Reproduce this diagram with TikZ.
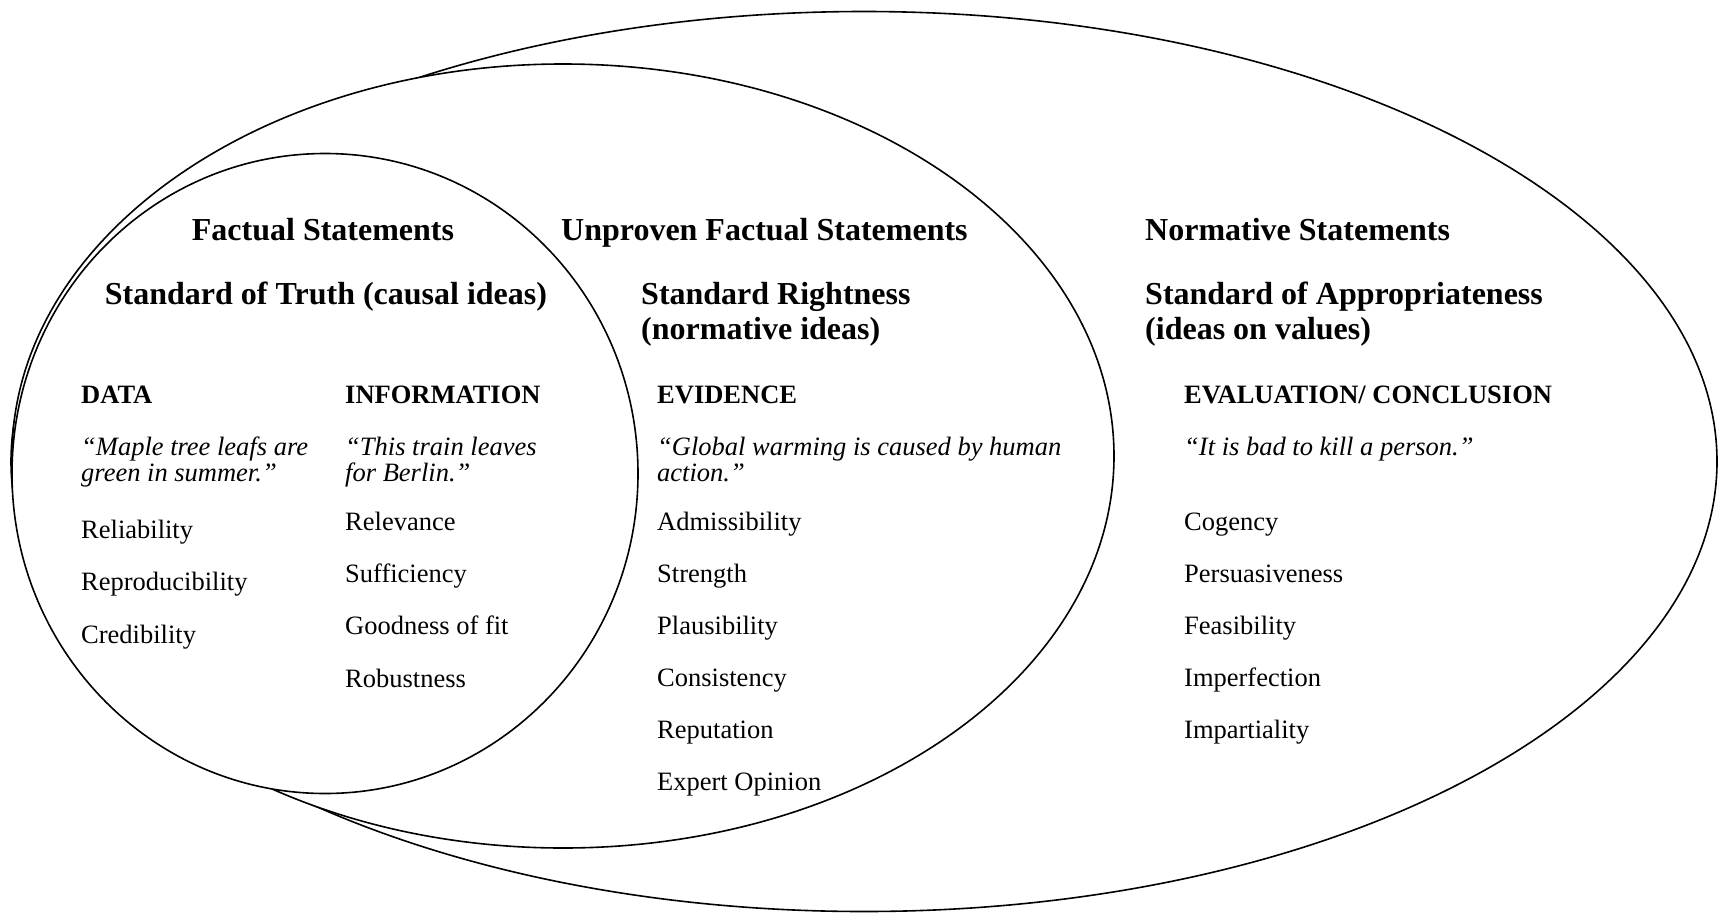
\documentclass[tikz,border=0pt]{standalone}
\usepackage{fontspec}
\setmainfont{Liberation Serif}
\begin{document}
\begin{tikzpicture}[x=1pt,y=-1pt,
  ring/.style={draw, fill=white, line width=1.6pt},
  ttl/.style={font=\fontsize{32}{36}\selectfont\bfseries, inner sep=0pt, anchor=base west},
  hd/.style={font=\fontsize{26.5}{30}\selectfont\bfseries, inner sep=0pt, anchor=base west},
  qt/.style={font=\fontsize{26.5}{30}\selectfont\itshape, inner sep=0pt, anchor=base west},
  itm/.style={font=\fontsize{26.5}{30}\selectfont, inner sep=0pt, anchor=base west}]
\useasboundingbox (0,0) rectangle (1726,913);
% ellipses (filled white, outer first, so inner ones hide what lies under them)
\draw[ring] (864,461.5) ellipse [x radius=853pt, y radius=450pt];
\draw[ring] (563,456) ellipse [x radius=551pt, y radius=392pt];
\draw[ring] (325,473.5) ellipse [x radius=313pt, y radius=320pt];
% left: factual
\node[ttl, anchor=base] (t1) at (323,240) {Factual Statements};
\node[ttl, anchor=base] (s1) at (326,304) {Standard of Truth (causal ideas)};
\node[hd] (h1) at (81,403) {DATA};
\node[qt] (q1a) at (81,455) {“Maple tree leafs are};
\node[qt] (q1b) at (81,481) {green in summer.”};
\node[itm] (a1) at (81,538) {Reliability};
\node[itm] (a2) at (81,590) {Reproducibility};
\node[itm] (a3) at (81,643) {Credibility};
\node[hd] (h2) at (345,403) {INFORMATION};
\node[qt] (q2a) at (345,455) {“This train leaves};
\node[qt] (q2b) at (345,481) {for Berlin.”};
\node[itm] (b1) at (345,530) {Relevance};
\node[itm] (b2) at (345,582) {Sufficiency};
\node[itm] (b3) at (345,634) {Goodness of fit};
\node[itm] (b4) at (345,687) {Robustness};
% middle: unproven
\node[ttl] (t2) at (561,240) {Unproven Factual Statements};
\node[ttl] (s2a) at (641,304) {Standard Rightness};
\node[ttl] (s2b) at (641,339) {(normative ideas)};
\node[hd] (h3) at (657,403) {EVIDENCE};
\node[qt] (q3a) at (657,455) {“Global warming is caused by human};
\node[qt] (q3b) at (657,481) {action.”};
\node[itm] (c1) at (657,530) {Admissibility};
\node[itm] (c2) at (657,582) {Strength};
\node[itm] (c3) at (657,634) {Plausibility};
\node[itm] (c4) at (657,686) {Consistency};
\node[itm] (c5) at (657,738) {Reputation};
\node[itm] (c6) at (657,790) {Expert Opinion};
% right: normative
\node[ttl] (t3) at (1145,240) {Normative Statements};
\node[ttl] (s3a) at (1145,304) {Standard of Appropriateness};
\node[ttl] (s3b) at (1145,339) {(ideas on values)};
\node[hd] (h4) at (1184,403) {EVALUATION/ CONCLUSION};
\node[qt] (q4) at (1184,455) {“It is bad to kill a person.”};
\node[itm] (d1) at (1184,530) {Cogency};
\node[itm] (d2) at (1184,582) {Persuasiveness};
\node[itm] (d3) at (1184,634) {Feasibility};
\node[itm] (d4) at (1184,686) {Imperfection};
\node[itm] (d5) at (1184,738) {Impartiality};
\end{tikzpicture}
\end{document}
